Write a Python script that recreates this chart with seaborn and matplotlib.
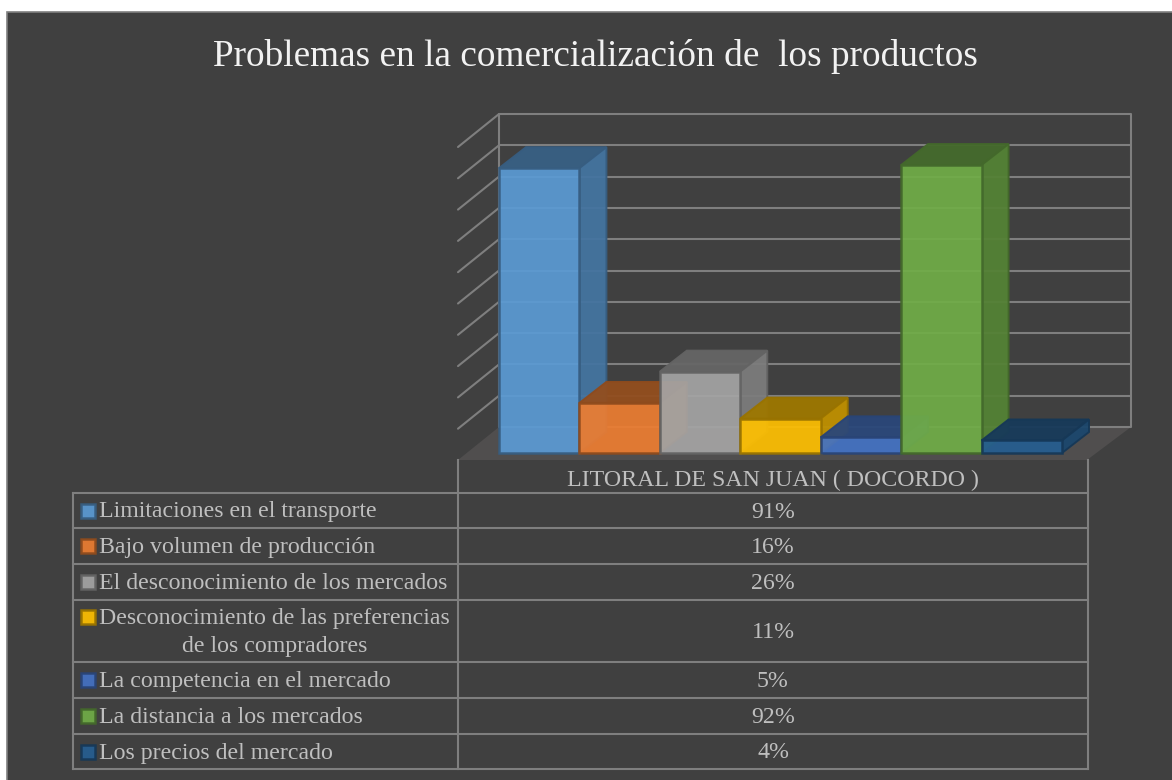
import matplotlib
matplotlib.use("Agg")
import matplotlib.pyplot as plt
import seaborn as sns
from matplotlib.colors import to_rgb
from matplotlib.patches import Polygon, Rectangle

W, H = 1172, 780

TITLE = "Problemas en la comercialización de  los productos"
COLUMN = "LITORAL DE SAN JUAN ( DOCORDO )"
CATEGORIES = [
    "Limitaciones en el transporte",
    "Bajo volumen de producción",
    "El desconocimiento de los mercados",
    "Desconocimiento de las preferencias\nde los compradores",
    "La competencia en el mercado",
    "La distancia a los mercados",
    "Los precios del mercado",
]
VALUES = [91, 16, 26, 11, 5, 92, 4]
COLORS = ["#5B9BD5", "#ED7D31", "#A5A5A5", "#FFC000", "#4472C4", "#70AD47", "#255E91"]
GRID_VALUES = list(range(0, 101, 10))
ROW_EDGES = [493, 528, 564, 600, 662, 698, 734, 769]

BG = "#404040"
LINE = "#7F7F7F"
TEXT = "#BFBFBF"
TABLE_FS = 17.2
TEXT_NUDGE = 1.5

# pixel mapping of the plot: first bar starts at 499, baseline at 453
PX_PER_CAT = 80.43
PX_PER_PCT = 3.13
X0 = 499 + 0.5 * PX_PER_CAT
Y0 = 453


def shade(color, factor):
    return tuple(c * factor for c in to_rgb(color))


def to_x(px):
    return (px - X0) / PX_PER_CAT


def to_y(py):
    return (Y0 - py) / PX_PER_PCT


def draw_walls(ax):
    # floor
    ax.add_patch(Polygon(
        [(to_x(458), to_y(460)), (to_x(1087), to_y(460)), (to_x(1131), to_y(427)), (to_x(499), to_y(427))],
        closed=True, fc="#504E4E", ec="none", zorder=1,
    ))
    y_back = to_y(427)
    x_back0, x_back1 = to_x(499), to_x(1131)
    dx, dy = to_x(458) - x_back0, to_y(460) - y_back
    for v in GRID_VALUES:
        y = y_back + v
        ax.plot([x_back0, x_back1], [y, y], color=LINE, lw=1.5, zorder=2, solid_capstyle="butt")
        if v > 0:
            ax.plot([x_back0 + dx, x_back0], [y + dy, y], color=LINE, lw=1.5, zorder=2)
    top = y_back + GRID_VALUES[-1]
    ax.plot([x_back0, x_back0], [y_back, top], color=LINE, lw=1.5, zorder=2)
    ax.plot([x_back1, x_back1], [y_back, top], color=LINE, lw=1.5, zorder=2)


def draw_bar_depth(ax, bars):
    dx, dy = 27 / PX_PER_CAT, 21 / PX_PER_PCT
    for i, (bar, color) in enumerate(zip(bars, COLORS)):
        x0, x1 = bar.get_x(), bar.get_x() + bar.get_width()
        h = bar.get_height()
        edge = shade(color, 0.6)
        z = 3 + i * 2
        ax.add_patch(Polygon(
            [(x0, h), (x1, h), (x1 + dx, h + dy), (x0 + dx, h + dy)],
            closed=True, fc=shade(color, 0.62), ec=edge, lw=1.4, alpha=0.95, zorder=z,
        ))
        ax.add_patch(Polygon(
            [(x1, 0), (x1 + dx, dy), (x1 + dx, h + dy), (x1, h)],
            closed=True, fc=shade(color, 0.75), ec=edge, lw=1.4, alpha=0.95, zorder=z,
        ))
        bar.set_zorder(z + 1)
        bar.set_edgecolor(edge)
        bar.set_linewidth(1.8)


def draw_table(ax):
    def hline(y, x0, x1):
        ax.plot([x0, x1], [y, y], color=LINE, lw=1.5, solid_capstyle="projecting")

    def vline(x, y0, y1):
        ax.plot([x, x], [y0, y1], color=LINE, lw=1.5, solid_capstyle="projecting")

    for y in ROW_EDGES:
        hline(y, 73, 1088)
    vline(73, ROW_EDGES[0], ROW_EDGES[-1])
    vline(458, 460, ROW_EDGES[-1])
    vline(1088, 460, ROW_EDGES[-1])

    ax.text(773, 480.5, COLUMN, ha="center", va="center", color=TEXT, fontsize=TABLE_FS)
    for i, (label, value, color) in enumerate(zip(CATEGORIES, VALUES, COLORS)):
        y0, y1 = ROW_EDGES[i], ROW_EDGES[i + 1]
        ym = (y0 + y1) / 2
        ax.text(773, ym + TEXT_NUDGE, f"{value}%", ha="center", va="center", color=TEXT, fontsize=TABLE_FS)
        multi = "\n" in label
        ax.add_patch(Rectangle(
            (81, (y0 + 17 if multi else ym) - 7), 14, 14,
            fc=color, ec=shade(color, 0.6), lw=1.8, alpha=0.92,
        ))
        if multi:
            first, second = label.split("\n")
            ax.text(99, y0 + 17 + TEXT_NUDGE, first, ha="left", va="center", color=TEXT, fontsize=TABLE_FS)
            ax.text(274.5, y0 + 45 + TEXT_NUDGE, second, ha="center", va="center", color=TEXT, fontsize=TABLE_FS)
        else:
            ax.text(99, ym + TEXT_NUDGE, label, ha="left", va="center", color=TEXT, fontsize=TABLE_FS)


def main():
    sns.set_theme(style="white")
    plt.rcParams["font.family"] = ["Liberation Serif", "DejaVu Serif"]

    fig = plt.figure(figsize=(W / 100, H / 100), dpi=100, facecolor="white")

    frame = fig.add_axes([0, 0, 1, 1])
    frame.set_xlim(0, W)
    frame.set_ylim(H, 0)
    frame.axis("off")
    frame.add_patch(Rectangle((6.5, 11.5), W, H, fc=BG, ec="#808080", lw=1.2))
    frame.text(595, 57, TITLE, ha="center", va="center", color="#F2F2F2", fontsize=26.8)

    # chart axes fill the figure, limits chosen so data units land on the right pixels
    ax = fig.add_axes([0, 0, 1, 1], facecolor="none")
    draw_walls(ax)
    sns.barplot(
        x=CATEGORIES, y=VALUES, hue=CATEGORIES, palette=COLORS, width=1.0,
        alpha=0.92, legend=False, saturation=1, ax=ax,
    )
    ax.set_xlim(to_x(0), to_x(W))
    ax.set_ylim(to_y(H), to_y(0))
    draw_bar_depth(ax, [c[0] for c in ax.containers])
    ax.axis("off")

    table = fig.add_axes([0, 0, 1, 1], facecolor="none")
    table.set_xlim(0, W)
    table.set_ylim(H, 0)
    table.axis("off")
    draw_table(table)

    fig.savefig("out.png", dpi=100, facecolor=fig.get_facecolor())
    plt.close(fig)


if __name__ == "__main__":
    main()
